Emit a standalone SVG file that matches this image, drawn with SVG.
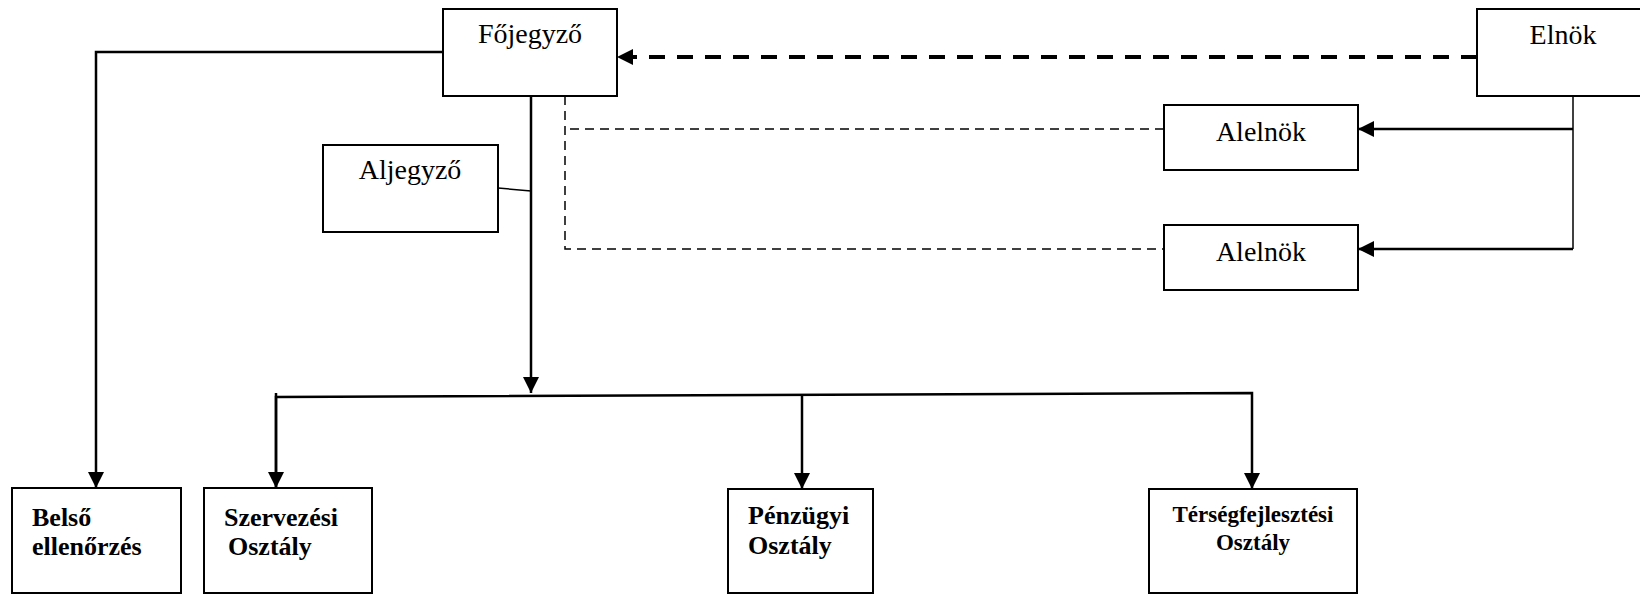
<svg xmlns="http://www.w3.org/2000/svg" width="1640" height="594" viewBox="0 0 1640 594">
<style>
.box{fill:#fff;stroke:#000;stroke-width:2}
.t{font-family:"Liberation Serif","Times New Roman",serif;font-size:28px;fill:#000}
.b{font-family:"Liberation Serif","Times New Roman",serif;font-size:26px;font-weight:bold;fill:#000}
.ln{fill:none;stroke:#000;stroke-width:2.5}
.thin{fill:none;stroke:#000;stroke-width:1.5}
.dt{fill:none;stroke:#000;stroke-width:1.5;stroke-dasharray:9 6}
.dk{fill:none;stroke:#000;stroke-width:4;stroke-dasharray:16 12}
</style>
<defs>
<marker id="ah" markerUnits="userSpaceOnUse" markerWidth="16" markerHeight="16" refX="16" refY="8" orient="auto">
<path d="M0,0 L16,8 L0,16 z" fill="#000"/>
</marker>
</defs>
<rect width="1640" height="594" fill="#fff"/>
<g id="connectors">
<path class="ln" d="M443,52 H96 V488" marker-end="url(#ah)"/>
<path class="ln" d="M531,96 V393" marker-end="url(#ah)"/>
<path class="thin" d="M498,188 L531,191"/>
<path class="ln" d="M276,488 V397 L1252,393 V489" marker-end="url(#ah)"/>
<path class="ln" d="M276,393 V488" marker-end="url(#ah)"/>
<path class="ln" d="M802,395 V489" marker-end="url(#ah)"/>
<path class="dk" d="M1477,57 H617" marker-end="url(#ah)"/>
<path class="thin" d="M1573,96 V249"/>
<path class="ln" d="M1573,129 H1358" marker-end="url(#ah)"/>
<path class="ln" d="M1573,249 H1358" marker-end="url(#ah)"/>
<path class="dt" d="M565,96 V249 H1164"/>
<path class="dt" d="M570,129 H1164"/>
</g>
<g id="fojegyzo"><rect class="box" x="443" y="9" width="174" height="87"/><text class="t" x="530" y="43" text-anchor="middle">Főjegyző</text></g>
<g id="elnok"><rect class="box" x="1477" y="9" width="200" height="87"/><text class="t" x="1563" y="44" text-anchor="middle">Elnök</text></g>
<g id="aljegyzo"><rect class="box" x="323" y="145" width="175" height="87"/><text class="t" x="410" y="179" text-anchor="middle">Aljegyző</text></g>
<g id="alelnok1"><rect class="box" x="1164" y="105" width="194" height="65"/><text class="t" x="1261" y="141" text-anchor="middle">Alelnök</text></g>
<g id="alelnok2"><rect class="box" x="1164" y="225" width="194" height="65"/><text class="t" x="1261" y="261" text-anchor="middle">Alelnök</text></g>
<g id="belso"><rect class="box" x="12" y="488" width="169" height="105"/><text class="b" x="32" y="526">Belső</text><text class="b" x="32" y="555">ellenőrzés</text></g>
<g id="szervezesi"><rect class="box" x="204" y="488" width="168" height="105"/><text class="b" x="224" y="526">Szervezési</text><text class="b" x="228" y="555">Osztály</text></g>
<g id="penzugyi"><rect class="box" x="728" y="489" width="145" height="104"/><text class="b" x="748" y="524">Pénzügyi</text><text class="b" x="748" y="554">Osztály</text></g>
<g id="tersegfejlesztesi"><rect class="box" x="1149" y="489" width="208" height="104"/><text class="b" x="1253" y="522" text-anchor="middle" style="font-size:23px">Térségfejlesztési</text><text class="b" x="1253" y="550" text-anchor="middle" style="font-size:23px">Osztály</text></g>
</svg>
